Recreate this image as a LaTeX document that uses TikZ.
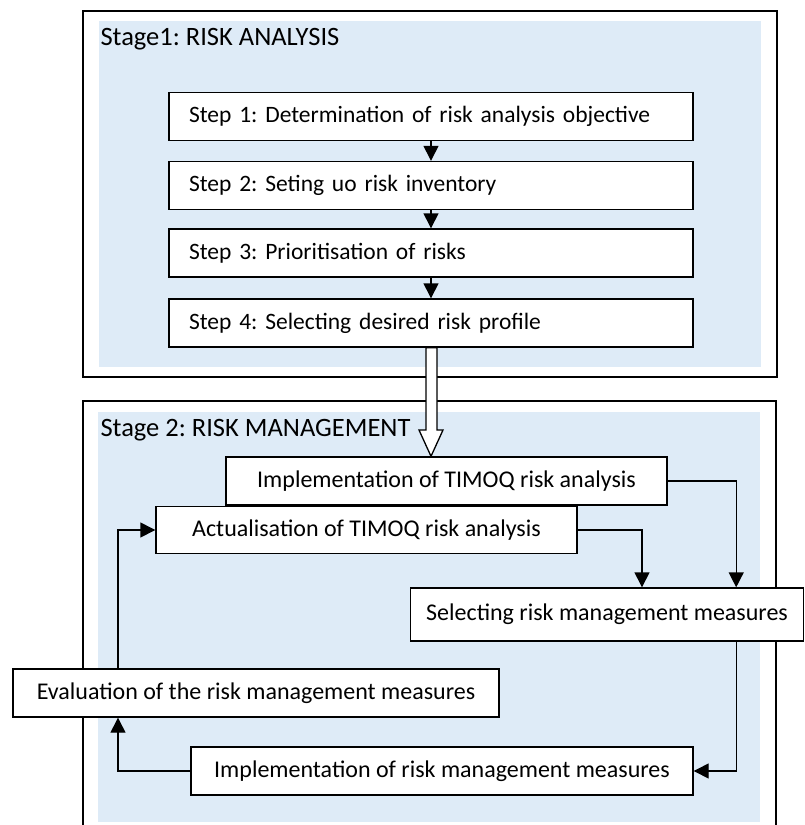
\documentclass[tikz,border=0pt]{standalone}
\usepackage{fontspec}
\setmainfont{Carlito}
\usepackage{tikz}
\usetikzlibrary{arrows.meta, positioning, calc}
\definecolor{stageblue}{RGB}{222, 235, 247}

\begin{document}
\begin{tikzpicture}[x=1pt, y=-1pt,
        font=\frenchspacing\fontsize{23.5}{28}\selectfont,
        titlefont/.style={font=\frenchspacing\fontsize{26.5}{31}\selectfont},
        stepbox/.style={draw, line width=1.4pt, fill=white, minimum height=48pt, inner xsep=20pt, text width=484pt, align=left},
        taskbox/.style={draw, line width=1.4pt, fill=white, minimum height=48pt, inner sep=0pt, align=center, font=\frenchspacing\fontsize{24}{28}\selectfont},
        flow/.style={line width=1.4pt, -{Triangle[length=15pt, width=15pt]}}]
        \useasboundingbox (0,0) rectangle (805,825);

        % Stage 1
        \draw[line width=1.5pt] (83,11) rectangle (777,377);
        \fill[stageblue] (99,21) rectangle (761,367);
        \node[titlefont, anchor=west] (title1) at (97,39) {Stage1: RISK ANALYSIS};
        \node[stepbox] (s1) at (431,116.5) {Step 1: Determination of risk analysis objective};
        \node[stepbox] (s2) at (431,185.5) {Step 2: Seting uo risk inventory};
        \node[stepbox] (s3) at (431,253) {Step 3: Prioritisation of risks};
        \node[stepbox] (s4) at (431,323) {Step 4: Selecting desired risk profile};
        % Arrows
        \draw[flow] (s1) -- (s2);
        \draw[flow] (s2) -- (s3);
        \draw[flow] (s3) -- (s4);

        % Stage 2
        \draw[line width=1.5pt] (83,826) -- (83,401) -- (776,401) -- (776,826);
        \fill[stageblue] (98,412) rectangle (760,822);
        \node[titlefont, anchor=west] (title2) at (97,430) {Stage 2: RISK MANAGEMENT};
        \node[taskbox, minimum width=441pt] (impl) at (446.5,481) {Implementation of TIMOQ risk analysis};
        \node[taskbox, minimum width=421pt, minimum height=47pt] (act) at (366.5,530) {Actualisation of TIMOQ risk analysis};
        \node[taskbox, minimum width=393pt, minimum height=53pt] (sel) at (607,614.5) {Selecting risk management measures};
        \node[taskbox, minimum width=486pt] (eval) at (256,693) {Evaluation of the risk management measures};
        \node[taskbox, minimum width=502pt] (rmm) at (442,771) {Implementation of risk management measures};

        % Hollow arrow from stage 1 to stage 2
        \draw[line width=1.3pt, fill=white] ([xshift=-5]s4.south) -- ([xshift=-5]s4.south |- title2.center)
            -- ([xshift=-12]s4.south |- title2.center) -- (s4.south |- impl.north)
            -- ([xshift=12]s4.south |- title2.center) -- ([xshift=6]s4.south |- title2.center)
            -- ([xshift=6]s4.south) -- cycle;

        % Arrows
        \draw[flow] (impl.east) -| ([xshift=-68]sel.north east);
        \draw[flow] (act.east) -| ([xshift=35]sel.north);
        \draw[flow] ([xshift=-68]sel.south east) |- (rmm.east);
        \draw[flow] (rmm.west) -| ([xshift=-138]eval.south);
        \draw[flow] ([xshift=-138]eval.north) |- (act.west);
    \end{tikzpicture}
\end{document}
